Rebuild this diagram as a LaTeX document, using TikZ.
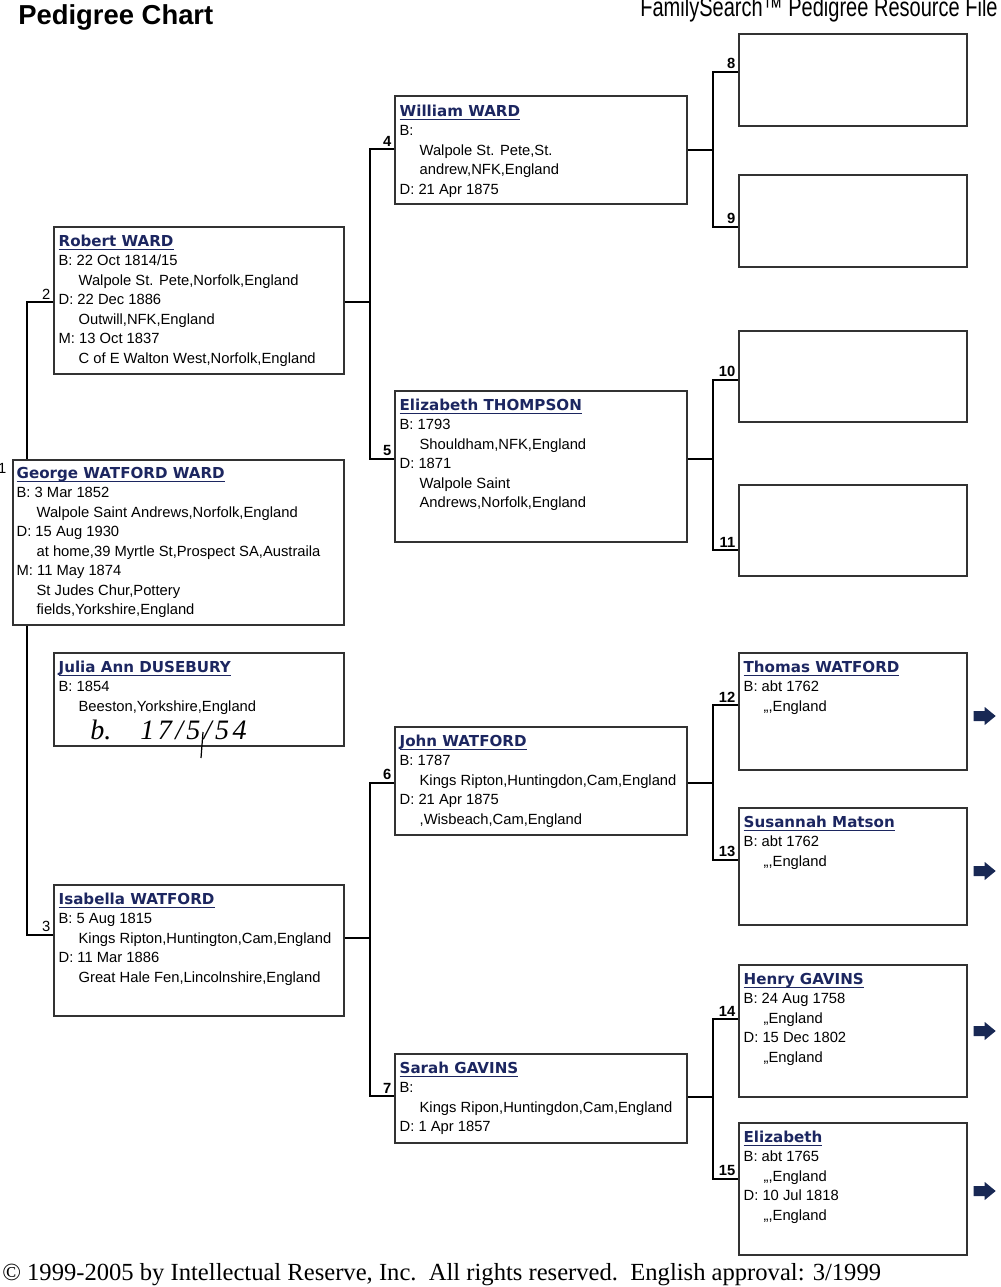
\documentclass[tikz,border=0pt]{standalone}
\usepackage{fontspec}
\setmainfont{Liberation Sans}
\newfontfamily\namefont{DejaVu Sans}
\newfontfamily\seriffont{Liberation Serif}
\usetikzlibrary{calc,fit}

\definecolor{namecol}{RGB}{28,38,96}
\definecolor{arrowcol}{RGB}{24,40,84}
\definecolor{edgecol}{RGB}{50,50,50}

\newlength\nmwd
\newcommand\nm[1]{\leavevmode{\namefont\bfseries\fontsize{8.6}{11.1}\selectfont\color{namecol}%
  \settowidth\nmwd{#1}\rlap{\rule[-2.2pt]{\nmwd}{0.8pt}}#1}}
\newcommand\ind{\hspace*{0.4cm}}

\tikzset{
  person/.style={draw=edgecol,line width=0.8pt,fill=white,inner sep=0pt},
  info/.style={anchor=base west,inner sep=0pt,font=\fontsize{8.4}{11.1}\selectfont},
  link/.style={line width=0.8pt},
  num/.style={anchor=south east,inner sep=1.5pt,font=\fontsize{8.4}{10}\selectfont},
  bnum/.style={num,font=\fontsize{8.4}{10}\selectfont\bfseries},
  nextarrow/.pic={\fill[arrowcol] (-11,-5) -- (0,-5) -- (0,-9) -- (11,0) -- (0,9) -- (0,5) -- (-11,5) -- cycle;}
}

\begin{document}
\begin{tikzpicture}[x=0.02cm,y=-0.02cm]
  \useasboundingbox (0,0) rectangle (1000,1287);

  \node[anchor=base west,inner sep=0pt,font=\bfseries\fontsize{15.6}{18}\selectfont] (title) at (18,25) {Pedigree Chart};
  \node[anchor=base east,inner sep=0pt,font=\fontsize{11.4}{13}\selectfont] (src) at (998,17)
    {\scalebox{1}[1.35]{FamilySearch\texttrademark{} Pedigree Resource File}};

  % boxes
  \node[person,fit={(13,460) (344,625)}] (p1) {};
  \node[person,fit={(54,227) (344,374)}] (p2) {};
  \node[person,fit={(54,653) (344,746)}] (pj) {};
  \node[person,fit={(54,885) (344,1016)}] (p3) {};
  \node[person,fit={(395,96) (687,204)}] (p4) {};
  \node[person,fit={(395,391) (687,542)}] (p5) {};
  \node[person,fit={(395,727) (687,835)}] (p6) {};
  \node[person,fit={(395,1054) (687,1143)}] (p7) {};
  \foreach \i/\t/\b in {8/34/126,9/175/267,10/331/422,11/485/576,12/653/770,13/808/925,14/965/1097,15/1123/1255}
    \node[person,fit={(739,\t) (967,\b)}] (p\i) {};

  % texts
  \node[info] (t1) at ($(p1.north west)+(4,19)$) {\parbox[t]{8cm}{\nm{George WATFORD WARD}\\
    B: 3 Mar 1852\\\ind Walpole Saint Andrews,Norfolk,England\\
    D: 15 Aug 1930\\\ind at home,39 Myrtle St,Prospect SA,Austraila\\
    M: 11 May 1874\\\ind St Judes Chur,Pottery\\\ind fields,Yorkshire,England}};
  \node[info] (t2) at ($(p2.north west)+(5,20)$) {\parbox[t]{8cm}{\nm{Robert WARD}\\
    B: 22 Oct 1814/15\\\ind Walpole St. Pete,Norfolk,England\\
    D: 22 Dec 1886\\\ind Outwill,NFK,England\\
    M: 13 Oct 1837\\\ind C of E Walton West,Norfolk,England}};
  \node[info] (tj) at ($(pj.north west)+(5,20)$) {\parbox[t]{8cm}{\nm{Julia Ann DUSEBURY}\\
    B: 1854\\\ind Beeston,Yorkshire,England}};
  \node[anchor=base west,inner sep=0pt,font=\seriffont\itshape\fontsize{16}{18}\selectfont] (note) at (90,739)
    {b.\hspace{0.58cm}{\addfontfeature{LetterSpace=12}17/5/54}};
  \draw[line width=0.7pt] (203,732) -- (201,758);
  \node[info] (t3) at ($(p3.north west)+(5,20)$) {\parbox[t]{8cm}{\nm{Isabella WATFORD}\\
    B: 5 Aug 1815\\\ind Kings Ripton,Huntington,Cam,England\\
    D: 11 Mar 1886\\\ind Great Hale Fen,Lincolnshire,England}};
  \node[info] (t4) at ($(p4.north west)+(5,21)$) {\parbox[t]{8cm}{\nm{William WARD}\\
    B:\\\ind Walpole St. Pete,St.\\\ind andrew,NFK,England\\
    D: 21 Apr 1875}};
  \node[info] (t5) at ($(p5.north west)+(5,20)$) {\parbox[t]{8cm}{\nm{Elizabeth THOMPSON}\\
    B: 1793\\\ind Shouldham,NFK,England\\
    D: 1871\\\ind Walpole Saint\\\ind Andrews,Norfolk,England}};
  \node[info] (t6) at ($(p6.north west)+(5,20)$) {\parbox[t]{8cm}{\nm{John WATFORD}\\
    B: 1787\\\ind Kings Ripton,Huntingdon,Cam,England\\
    D: 21 Apr 1875\\\ind ,Wisbeach,Cam,England}};
  \node[info] (t7) at ($(p7.north west)+(5,20)$) {\parbox[t]{8cm}{\nm{Sarah GAVINS}\\
    B:\\\ind Kings Ripon,Huntingdon,Cam,England\\
    D: 1 Apr 1857}};
  \node[info] (t12) at ($(p12.north west)+(5,20)$) {\parbox[t]{6cm}{\nm{Thomas WATFORD}\\
    B: abt 1762\\\ind ,,,England}};
  \node[info] (t13) at ($(p13.north west)+(5,20)$) {\parbox[t]{6cm}{\nm{Susannah Matson}\\
    B: abt 1762\\\ind ,,,England}};
  \node[info] (t14) at ($(p14.north west)+(5,20)$) {\parbox[t]{6cm}{\nm{Henry GAVINS}\\
    B: 24 Aug 1758\\\ind ,,England\\
    D: 15 Dec 1802\\\ind ,,England}};
  \node[info] (t15) at ($(p15.north west)+(5,20)$) {\parbox[t]{6cm}{\nm{Elizabeth}\\
    B: abt 1765\\\ind ,,,England\\
    D: 10 Jul 1818\\\ind ,,,England}};

  % links
  \foreach \i/\y in {2/302,3/935,4/149,5/459,6/783,7/1096,8/72,9/227,10/380,11/550,12/705,13/860,14/1019,15/1179}
    \coordinate (p\i-in) at (p\i.west |- 0,\y);
  \coordinate (hub1) at (27,0);
  \coordinate (hub2) at (370,302);
  \coordinate (hub3) at (370,938);
  \coordinate (hub4) at (713,150);
  \coordinate (hub5) at (713,459);
  \coordinate (hub6) at (713,783);
  \coordinate (hub7) at (713,1097);
  \draw[link] (p2-in) -| (hub1 |- p1.north);
  \draw[link] (hub1 |- p1.south) |- (p3-in);
  \foreach \ch/\fa/\mo in {2/4/5,3/6/7,4/8/9,5/10/11,6/12/13,7/14/15} {
    \draw[link] (p\ch.east |- hub\ch) -- (hub\ch);
    \draw[link] (p\fa-in) -| (hub\ch) |- (p\mo-in);
  }

  % numbers
  \node[num,anchor=north east] (n1) at ($(p1.north west)+(-3,1)$) {1};
  \foreach \i in {2,3}
    \node[num] (n\i) at (p\i-in) {\i};
  \foreach \i in {4,...,15}
    \node[bnum] (n\i) at (p\i-in) {\i};

  % more generations
  \foreach \i/\y in {12/716,13/871,14/1031,15/1191}
    \pic at ($(p\i.east |- 0,\y)+(17,0)$) {nextarrow};

  \node[anchor=base west,inner sep=0pt,font=\seriffont\fontsize{14}{16}\selectfont] (foot) at (2,1280)
    {\textcopyright{} 1999-2005 by Intellectual Reserve, Inc.\ \ All rights reserved.\ \ English approval: 3/1999};
\end{tikzpicture}
\end{document}
